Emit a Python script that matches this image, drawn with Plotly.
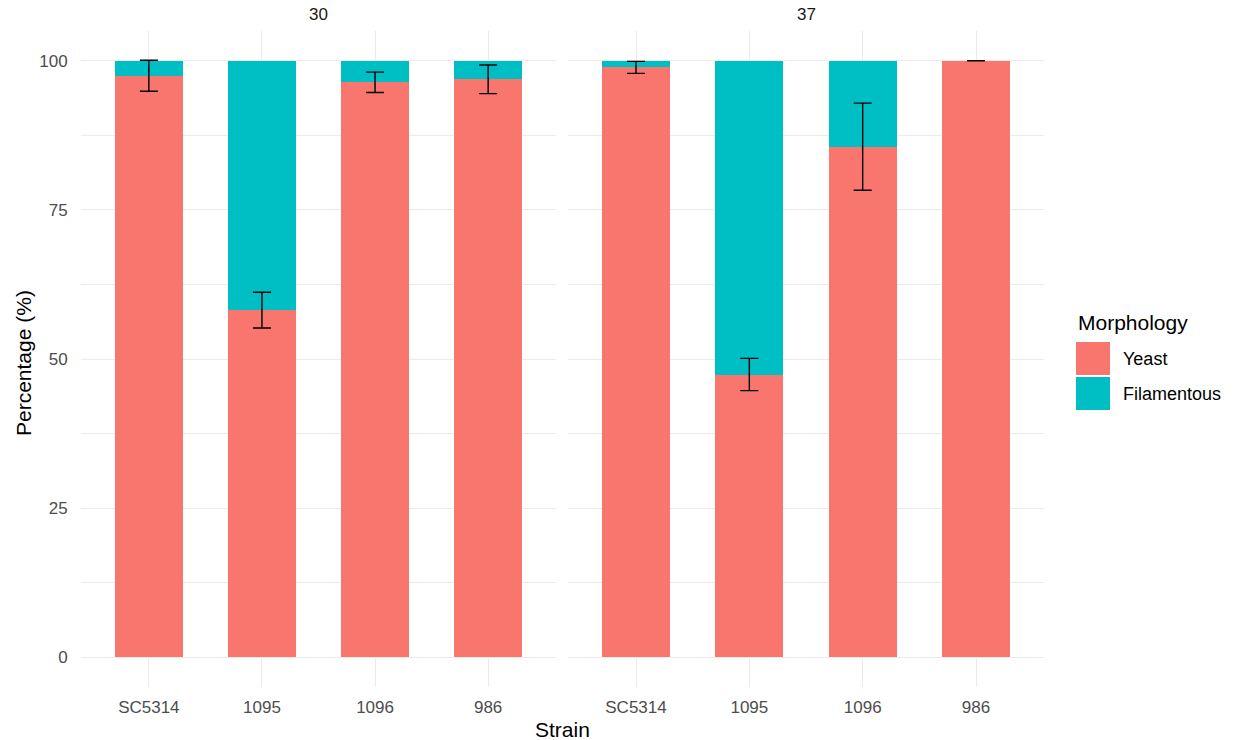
import plotly.graph_objects as go

# Morphology of each strain at two growth temperatures (% of cells)
temperatures = ["30", "37"]
strains = ["SC5314", "1095", "1096", "986"]
yeast_30 = [97.5, 58.2, 96.4, 96.9]
yeast_37 = [98.9, 47.4, 85.6, 100.0]
yeast_sd_30 = [2.6, 3.0, 1.7, 2.4]
yeast_sd_37 = [1.0, 2.7, 7.3, 0.0]

YEAST_COLOR = "#F8766D"
FILA_COLOR = "#00BFC4"
GRID = "#EBEBEB"
FONT = "Liberation Sans, Arial, sans-serif"

W, H = 1233, 740
L, R, T, B = 81, 189, 31, 53
PW, PH = W - L - R, H - T - B


def px_x(px):
    return (px - L) / PW


def px_y(py):
    return (H - B - py) / PH


panels = [
    (yeast_30, yeast_sd_30, "x", "y"),
    (yeast_37, yeast_sd_37, "x2", "y2"),
]

fig = go.Figure()
for yeast, sd, xa, ya in panels:
    fila = [100 - v for v in yeast]
    fig.add_trace(go.Bar(x=strains, y=yeast, name="Yeast", marker_color=YEAST_COLOR,
                         marker_line_width=0, width=0.6, xaxis=xa, yaxis=ya,
                         showlegend=False))
    fig.add_trace(go.Bar(x=strains, y=fila, name="Filamentous", marker_color=FILA_COLOR,
                         marker_line_width=0, width=0.6, xaxis=xa, yaxis=ya,
                         showlegend=False))
    # error bars drawn on top of the stacked bars
    fig.add_trace(go.Scatter(x=strains, y=yeast, mode="markers",
                             marker=dict(opacity=0, size=1), xaxis=xa, yaxis=ya,
                             error_y=dict(type="data", array=sd, visible=True,
                                          color="black", thickness=1.4, width=9),
                             showlegend=False, hoverinfo="skip"))

xaxis_common = dict(
    type="category", categoryorder="array", categoryarray=strains,
    range=[-0.6, 3.6], showgrid=True, gridcolor=GRID, gridwidth=1,
    zeroline=False, showline=False, ticks="outside", ticklen=5,
    tickcolor="rgba(0,0,0,0)",
    tickfont=dict(family=FONT, size=17, color="#4D4D4D"),
)
yaxis_common = dict(
    range=[-5, 105], tickvals=[0, 25, 50, 75, 100], showgrid=True,
    gridcolor=GRID, gridwidth=1, zeroline=False, showline=False,
    minor=dict(tick0=12.5, dtick=25, showgrid=True, gridcolor=GRID, gridwidth=0.6),
    tickfont=dict(family=FONT, size=17, color="#4D4D4D"),
)

fig.update_layout(
    width=W, height=H,
    margin=dict(l=L, r=R, t=T, b=B, pad=0),
    plot_bgcolor="white", paper_bgcolor="white",
    barmode="stack", bargap=0.4,
    font=dict(family=FONT),
    xaxis=dict(domain=[0, px_x(556)], anchor="y", **xaxis_common),
    xaxis2=dict(domain=[px_x(568), 1], anchor="y2", **xaxis_common),
    yaxis=dict(anchor="x", ticks="outside", ticklen=9, tickcolor="rgba(0,0,0,0)",
               **yaxis_common),
    yaxis2=dict(anchor="x2", matches="y", showticklabels=False, **yaxis_common),
    showlegend=False,
)

annotations = []
# facet strip labels
for temp, (a, b) in zip(temperatures, [(81, 556), (568, 1044)]):
    annotations.append(dict(text=temp, x=px_x((a + b) / 2), y=px_y(14),
                            xref="paper", yref="paper", showarrow=False,
                            xanchor="center", yanchor="middle",
                            font=dict(family=FONT, size=17, color="#1A1A1A")))
# axis titles
annotations.append(dict(text="Strain", x=px_x(562.5), y=px_y(730), xref="paper",
                        yref="paper", showarrow=False, xanchor="center",
                        yanchor="middle", font=dict(family=FONT, size=21, color="black")))
annotations.append(dict(text="Percentage (%)", x=px_x(23), y=px_y(363), xref="paper",
                        yref="paper", showarrow=False, xanchor="center",
                        yanchor="middle", textangle=-90,
                        font=dict(family=FONT, size=21, color="black")))

# legend
annotations.append(dict(text="Morphology", x=px_x(1076), y=px_y(323), xref="paper",
                        yref="paper", showarrow=False, xanchor="left",
                        yanchor="middle", font=dict(family=FONT, size=21, color="black")))
shapes = []
for label, color, top in [("Yeast", YEAST_COLOR, 342), ("Filamentous", FILA_COLOR, 377)]:
    shapes.append(dict(type="rect", xref="paper", yref="paper",
                       x0=px_x(1076), x1=px_x(1110), y0=px_y(top), y1=px_y(top + 33),
                       fillcolor=color, line_width=0))
    annotations.append(dict(text=label, x=px_x(1121), y=px_y(top + 17), xref="paper",
                            yref="paper", showarrow=False, xanchor="left",
                            yanchor="middle",
                            font=dict(family=FONT, size=18, color="black")))

fig.update_layout(annotations=annotations, shapes=shapes)

fig.write_html("out.html")
